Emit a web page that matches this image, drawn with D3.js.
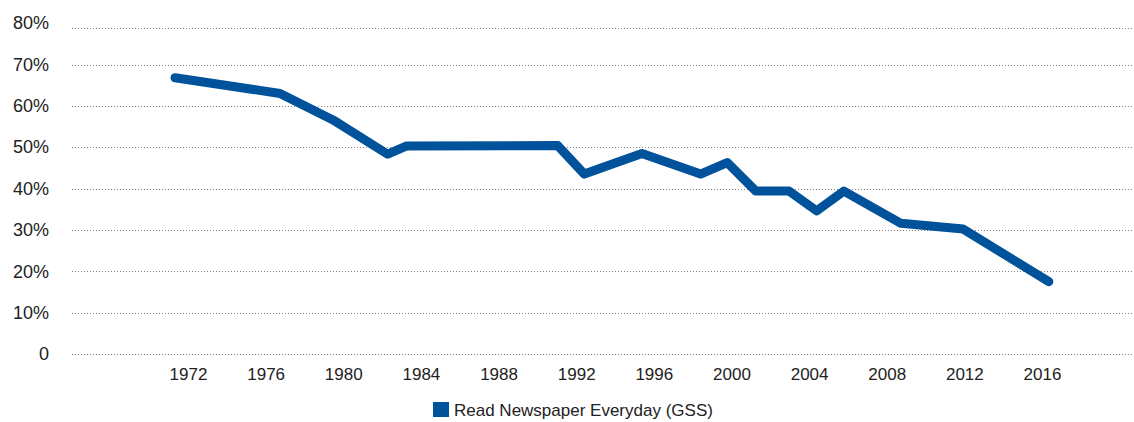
<!DOCTYPE html>
<html>
<head>
<meta charset="utf-8">
<script src="https://cdn.jsdelivr.net/npm/d3@7"></script>
<style>
  html, body { margin: 0; padding: 0; background: #fff; }
  svg { display: block; }
  text { font-family: "Liberation Sans", Arial, sans-serif; fill: #222; }
</style>
</head>
<body>
<svg id="chart" width="1134" height="422"></svg>
<script>
// ---- data ----
const years = [1971.33, 1976.74, 1979.47, 1982.29, 1983.27, 1991.05, 1992.42, 1993.90, 1995.39,
               1998.41, 1999.78, 2001.25, 2002.97, 2004.39, 2005.79, 2008.73, 2011.94, 2016.35];
const values = [66.8, 63.0, 56.6, 48.3, 50.3, 50.4, 43.5, 46.0, 48.5,
                43.5, 46.3, 39.4, 39.4, 34.6, 39.4, 31.6, 30.2, 17.5];
const xTickYears = [1972, 1976, 1980, 1984, 1988, 1992, 1996, 2000, 2004, 2008, 2012, 2016];
const yTickValues = [0, 10, 20, 30, 40, 50, 60, 70, 80];
const seriesName = "Read Newspaper Everyday (GSS)";

// ---- layout ----
const W = 1134, H = 422;
const gridLeft = 72, gridRight = 1134, plotTopY = 28;
const color = "#00529B";

const svg = d3.select("#chart");

const x = d3.scaleLinear().domain([1972, 2016]).range([188, 1042]);
const y = d3.scaleLinear().domain([0, 70]).range([354, 64.5]);

// gridlines (dotted)
const gridVals = yTickValues.filter(v => v < 80);
svg.append("g").selectAll("line").data(gridVals).join("line")
  .attr("x1", gridLeft).attr("x2", gridRight)
  .attr("y1", d => Math.round(y(d)) + 0.5).attr("y2", d => Math.round(y(d)) + 0.5)
  .attr("stroke", "#7f7f7f").attr("stroke-width", 1).attr("stroke-dasharray", "1,2");
// top of plot area line
svg.append("line")
  .attr("x1", gridLeft).attr("x2", gridRight)
  .attr("y1", plotTopY + 0.5).attr("y2", plotTopY + 0.5)
  .attr("stroke", "#7f7f7f").attr("stroke-width", 1).attr("stroke-dasharray", "1,2");

// y axis labels
const yAxis = d3.axisLeft(y).tickValues(yTickValues)
  .tickFormat(d => d === 0 ? "0" : d + "%").tickSize(0).tickPadding(0);
const yg = svg.append("g").attr("transform", "translate(49,0)").call(yAxis);
yg.select(".domain").remove();
yg.selectAll("text").style("font-size", "18px")
  .style("font-family", "'Liberation Sans', Arial, sans-serif").attr("fill", "#222");

// x axis labels
const xAxis = d3.axisBottom(x).tickValues(xTickYears).tickFormat(d3.format("d")).tickSize(0).tickPadding(0);
const xg = svg.append("g").attr("transform", "translate(0,368)").call(xAxis);
xg.select(".domain").remove();
xg.selectAll("text").style("font-size", "17px")
  .style("font-family", "'Liberation Sans', Arial, sans-serif").attr("fill", "#222");

// line
const data = years.map((yr, i) => ({ yr, v: values[i] }));
svg.append("path").datum(data)
  .attr("fill", "none").attr("stroke", color).attr("stroke-width", 9)
  .attr("stroke-linejoin", "round").attr("stroke-linecap", "round")
  .attr("d", d3.line().x(d => x(d.yr)).y(d => y(d.v)));

// legend
const lg = svg.append("g").attr("transform", "translate(433,402)");
lg.append("rect").attr("width", 16).attr("height", 15).attr("fill", color);
lg.append("text").attr("x", 21).attr("y", 8).attr("dy", "0.35em")
  .style("font-size", "17px").text(seriesName);
</script>
</body>
</html>
